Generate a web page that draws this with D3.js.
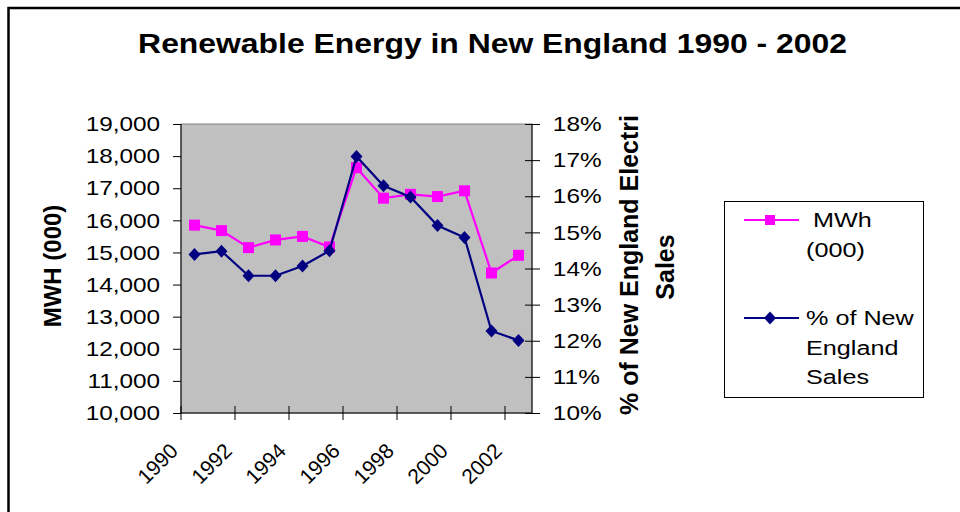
<!DOCTYPE html>
<html lang="en">
<head>
<meta charset="UTF-8">
<title>Renewable Energy in New England 1990 - 2002</title>
<script src="https://d3js.org/d3.v7.min.js"></script>
<style>
  body { margin: 0; background: #fff; }
  svg { display: block; }
  svg text { font-family: "Liberation Sans", Arial, sans-serif; fill: #000; }
  .tick text { font-size: 21px; }
  .tick line { stroke: #000; }
</style>
</head>
<body>
<svg id="chart" width="960" height="512"></svg>
<script>
// data
const years = [1990, 1991, 1992, 1993, 1994, 1995, 1996, 1997, 1998, 1999, 2000, 2001, 2002];
const mwh = [15850, 15680, 15150, 15390, 15500, 15170, 17640, 16690, 16810, 16740, 16920, 14360, 14910];
const pctSales = [14.39, 14.48, 13.80, 13.80, 14.07, 14.49, 17.10, 16.29, 15.98, 15.19, 14.86, 12.27, 12.01];
const mwhTicks = [10000, 11000, 12000, 13000, 14000, 15000, 16000, 17000, 18000, 19000];
const pctTicks = [10, 11, 12, 13, 14, 15, 16, 17, 18];
const yearLabels = [1990, 1992, 1994, 1996, 1998, 2000, 2002];
const legendLabels = [[" MWh", "(000)"], ["% of New", "England", "Sales"]];

const SX = 1.2;  // text in the original is drawn wide
const SXT = 1.16; // tick labels
const svg = d3.select("#chart");

const plot = { left: 181, right: 532, top: 124, bottom: 413 };

const x = d3.scaleBand().domain(years).range([plot.left, plot.right]);
const yL = d3.scaleLinear().domain([10000, 19000]).range([plot.bottom, plot.top]);
const yR = d3.scaleLinear().domain([10, 18]).range([plot.bottom, plot.top]);
const cx = d => x(d) + x.bandwidth() / 2;

// chart border (runs off the right and bottom edge)
svg.append("rect")
    .attr("x", 8.5).attr("y", 8)
    .attr("width", 1000).attr("height", 600)
    .attr("fill", "none").attr("stroke", "#000").attr("stroke-width", 2.5);

// title
svg.append("text")
    .attr("transform", `translate(492.5,53) scale(1.16,1)`)
    .attr("text-anchor", "middle")
    .style("font-size", "27.5px").style("font-weight", "bold")
    .text("Renewable Energy in New England 1990 - 2002");

// plot area
svg.append("rect")
    .attr("x", plot.left).attr("y", plot.top)
    .attr("width", plot.right - plot.left).attr("height", plot.bottom - plot.top)
    .attr("fill", "#c0c0c0").attr("stroke", "#808080");

// left axis
const gL = svg.append("g")
    .attr("transform", `translate(${plot.left},0)`)
    .call(d3.axisLeft(yL).tickValues(mwhTicks).tickFormat(d3.format(",")).tickSize(8).tickPadding(10));
gL.select(".domain").remove();
gL.selectAll(".tick text").attr("transform", `scale(${SXT},1)`);

// right axis
const gR = svg.append("g")
    .attr("transform", `translate(${plot.right},0)`)
    .call(d3.axisRight(yR).tickValues(pctTicks).tickFormat(d => d + "%").tickSize(8).tickPadding(10));
gR.select(".domain").remove();
gR.selectAll(".tick line").attr("x1", -7);
gR.selectAll(".tick text").attr("transform", `scale(${SXT},1)`);

// axis lines
svg.append("line").attr("x1", plot.left).attr("x2", plot.left).attr("y1", plot.top).attr("y2", plot.bottom).attr("stroke", "#000");
svg.append("line").attr("x1", plot.right).attr("x2", plot.right).attr("y1", plot.top).attr("y2", plot.bottom).attr("stroke", "#000");
svg.append("line").attr("x1", plot.left).attr("x2", plot.right).attr("y1", plot.bottom).attr("y2", plot.bottom).attr("stroke", "#000");

// category ticks and labels
svg.selectAll(".xtick").data(yearLabels).enter().append("line")
    .attr("class", "xtick")
    .attr("x1", d => x(d)).attr("x2", d => x(d))
    .attr("y1", plot.bottom - 7).attr("y2", plot.bottom + 7)
    .attr("stroke", "#000");

svg.selectAll(".xlabel").data(yearLabels).enter().append("text")
    .attr("class", "xlabel")
    .attr("transform", d => `translate(${x(d) - 7},447) rotate(-45)`)
    .attr("text-anchor", "end")
    .attr("dy", "0.35em")
    .style("font-size", "21px")
    .text(d => d);

// axis titles
svg.append("text")
    .attr("transform", "translate(52,266) rotate(-90)")
    .attr("text-anchor", "middle").attr("dominant-baseline", "central")
    .style("font-size", "24px").style("font-weight", "bold")
    .text("MWH (000)");

svg.append("text")
    .attr("transform", "translate(629,265) rotate(-90)")
    .attr("text-anchor", "middle").attr("dominant-baseline", "central")
    .style("font-size", "25px").style("font-weight", "bold")
    .text("% of New England Electri");

svg.append("text")
    .attr("transform", "translate(665,267) rotate(-90)")
    .attr("text-anchor", "middle").attr("dominant-baseline", "central")
    .style("font-size", "25px").style("font-weight", "bold")
    .text("Sales");

// series
const lineL = d3.line().x((d, i) => cx(years[i])).y(d => yL(d));
const lineR = d3.line().x((d, i) => cx(years[i])).y(d => yR(d));

svg.append("path").datum(mwh)
    .attr("d", lineL).attr("fill", "none").attr("stroke", "#ff00ff").attr("stroke-width", 2.2);

svg.selectAll(".sq").data(mwh).enter().append("rect")
    .attr("class", "sq")
    .attr("x", (d, i) => cx(years[i]) - 5.5).attr("y", d => yL(d) - 5.5)
    .attr("width", 11).attr("height", 11)
    .attr("fill", "#ff00ff");

svg.append("path").datum(pctSales)
    .attr("d", lineR).attr("fill", "none").attr("stroke", "#000080").attr("stroke-width", 2.2);

const diamond = "M0,-6.5L6,0L0,6.5L-6,0Z";
svg.selectAll(".dm").data(pctSales).enter().append("path")
    .attr("class", "dm")
    .attr("transform", (d, i) => `translate(${cx(years[i])},${yR(d)})`)
    .attr("d", diamond)
    .attr("fill", "#000080");

// legend
svg.append("rect")
    .attr("x", 724.5).attr("y", 201.5).attr("width", 199).attr("height", 196)
    .attr("fill", "#fff").attr("stroke", "#000");

const legendY = [220, 318];
const legendColors = ["#ff00ff", "#000080"];

legendLabels.forEach((lines, k) => {
    const g = svg.append("g").attr("transform", `translate(0,${legendY[k]})`);
    g.append("line").attr("x1", 744).attr("x2", 799).attr("y1", 0).attr("y2", 0)
        .attr("stroke", legendColors[k]).attr("stroke-width", 2);
    if (k === 0) {
        g.append("rect").attr("x", 765).attr("y", -5).attr("width", 10).attr("height", 10).attr("fill", legendColors[k]);
    } else {
        g.append("path").attr("transform", "translate(770,0)").attr("d", diamond).attr("fill", legendColors[k]);
    }
    lines.forEach((t, j) => {
        g.append("text")
            .attr("transform", `translate(806,${7 + j * 29.5}) scale(${SX},1)`)
            .style("font-size", "21px").style("white-space", "pre")
            .text(t);
    });
});
</script>
</body>
</html>
